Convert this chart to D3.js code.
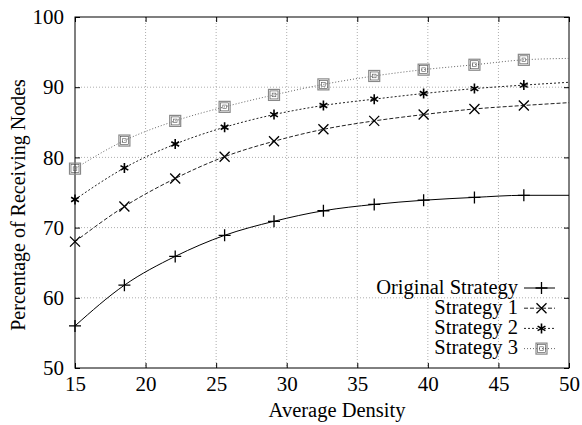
<!DOCTYPE html>
<html>
<head>
<meta charset="utf-8">
<script src="https://cdn.jsdelivr.net/npm/d3@7"></script>
<style>
  body { margin: 0; background: #fff; }
</style>
</head>
<body>
<div id="chart"></div>
<script>
// values
var density = [15, 18.5, 22.1, 25.6, 29.1, 32.6, 36.2, 39.7, 43.3, 46.8];
var original  = [56.0, 61.8, 65.9, 68.9, 70.9, 72.4, 73.3, 73.9, 74.3, 74.6];
var strategy1 = [68.0, 73.0, 77.0, 80.1, 82.3, 84.0, 85.2, 86.1, 86.9, 87.4];
var strategy2 = [74.0, 78.5, 81.9, 84.3, 86.1, 87.4, 88.3, 89.1, 89.8, 90.3];
var strategy3 = [78.4, 82.4, 85.2, 87.2, 88.9, 90.4, 91.6, 92.5, 93.2, 93.9];
// where each fitted line ends at x = 50
var lineEnd = [74.6, 87.8, 90.7, 94.1];
var seriesNames = ["Original Strategy", "Strategy 1", "Strategy 2", "Strategy 3"];
var xTicks = [15, 20, 25, 30, 35, 40, 45, 50];
var yTicks = [50, 60, 70, 80, 90, 100];

var FONT = "Liberation Serif";

var margin = {top: 17, right: 13, bottom: 57, left: 75},
    width = 582 - margin.left - margin.right,
    height = 425 - margin.top - margin.bottom;

var x = d3.scaleLinear().domain([15, 50]).range([0, width]);
var y = d3.scaleLinear().domain([50, 100]).range([height, 0]);

var svg = d3.select("#chart").append("svg")
    .attr("width", 582)
    .attr("height", 425)
    .attr("font-family", FONT)
  .append("g")
    .attr("transform", "translate(" + margin.left + "," + margin.top + ")");

// grid
svg.selectAll(".gx").data(xTicks.slice(1, -1)).enter().append("line")
    .attr("x1", d => x(d)).attr("x2", d => x(d))
    .attr("y1", 0).attr("y2", height)
    .attr("stroke", "#999").attr("stroke-width", 0.8).attr("stroke-dasharray", "1,2");
svg.selectAll(".gy").data(yTicks.slice(1, -1)).enter().append("line")
    .attr("y1", d => y(d)).attr("y2", d => y(d))
    .attr("x1", 0).attr("x2", width)
    .attr("stroke", "#999").attr("stroke-width", 0.8).attr("stroke-dasharray", "1,2");

// axes, ticks inside on all four sides
function styleAxis(g) {
  g.attr("font-family", FONT).attr("font-size", 21);
  g.select(".domain").remove();
  g.selectAll("line").attr("stroke", "#000");
  g.selectAll("text").attr("fill", "#000");
}
svg.append("g").attr("transform", "translate(0," + height + ")")
    .call(d3.axisBottom(x).tickValues(xTicks).tickSizeInner(-5).tickPadding(8))
    .call(styleAxis);
svg.append("g")
    .call(d3.axisTop(x).tickValues(xTicks).tickSizeInner(-5).tickFormat(""))
    .call(styleAxis);
svg.append("g")
    .call(d3.axisLeft(y).tickValues(yTicks).tickSizeInner(-5).tickPadding(11))
    .call(styleAxis);
svg.append("g").attr("transform", "translate(" + width + ",0)")
    .call(d3.axisRight(y).tickValues(yTicks).tickSizeInner(-5).tickFormat(""))
    .call(styleAxis);

svg.append("rect").attr("width", width).attr("height", height)
    .attr("fill", "none").attr("stroke", "#000").attr("stroke-width", 1);

// axis titles
svg.append("text").attr("x", 262).attr("y", 400)
    .attr("text-anchor", "middle").attr("font-family", FONT).attr("font-size", 20.5)
    .text("Average Density");
svg.append("text")
    .attr("transform", "translate(-50,188) rotate(-90)")
    .attr("text-anchor", "middle").attr("font-family", FONT).attr("font-size", 20)
    .text("Percentage of Receiving Nodes");

// series
var allSeries = [original, strategy1, strategy2, strategy3];
var dashes = [null, "4,2", "2,2", "1,2"];
var strokes = ["#000", "#222", "#222", "#666"];
var markers = ["plus", "cross", "star", "box"];

function drawMarker(g, type, cx, cy) {
  var s = 5;
  if (type === "plus") {
    g.append("path").attr("d", "M" + (cx - s - 1) + "," + cy + "h" + (2 * s + 2) + "M" + cx + "," + (cy - s - 1) + "v" + (2 * s + 2))
      .attr("stroke", "#000").attr("stroke-width", 1.3).attr("fill", "none");
  } else if (type === "cross") {
    g.append("path").attr("d", "M" + (cx - s) + "," + (cy - s) + "l" + (2 * s) + "," + (2 * s) + "M" + (cx - s) + "," + (cy + s) + "l" + (2 * s) + "," + (-2 * s))
      .attr("stroke", "#000").attr("stroke-width", 1.3).attr("fill", "none");
  } else if (type === "star") {
    var a = 4.5, b = 3.9;
    g.append("path").attr("d",
        "M" + cx + "," + (cy - a - 0.5) + "v" + (2 * a + 1) +
        "M" + (cx - b) + "," + (cy - a / 2) + "l" + (2 * b) + "," + a +
        "M" + (cx - b) + "," + (cy + a / 2) + "l" + (2 * b) + "," + (-a))
      .attr("stroke", "#000").attr("stroke-width", 1.6).attr("fill", "none");
  } else {
    g.append("rect").attr("x", cx - 5.5).attr("y", cy - 5.5).attr("width", 11).attr("height", 11)
      .attr("fill", "none").attr("stroke", "#888").attr("stroke-width", 1.2);
    g.append("rect").attr("x", cx - 4).attr("y", cy - 4).attr("width", 8).attr("height", 8)
      .attr("fill", "none").attr("stroke", "#444").attr("stroke-width", 0.6);
    g.append("rect").attr("x", cx - 1.8).attr("y", cy - 1.8).attr("width", 3.6).attr("height", 3.6)
      .attr("fill", "none").attr("stroke", "#555").attr("stroke-width", 0.6);
  }
}

var line = d3.line().x(d => x(d[0])).y(d => y(d[1])).curve(d3.curveMonotoneX);

allSeries.forEach(function(vals, i) {
  var pts = density.map((d, j) => [d, vals[j]]);
  pts.push([50, lineEnd[i]]);
  svg.append("path").datum(pts).attr("d", line)
    .attr("fill", "none").attr("stroke", strokes[i]).attr("stroke-width", 1)
    .attr("stroke-dasharray", dashes[i]);
  var g = svg.append("g");
  density.forEach(function(d, j) { drawMarker(g, markers[i], x(d), y(vals[j])); });
});

// legend
var legend = svg.append("g");
seriesNames.forEach(function(name, i) {
  var ly = 271 + i * 20.2;
  legend.append("text").attr("x", 443).attr("y", ly + 5.5).attr("text-anchor", "end")
    .attr("font-family", FONT).attr("font-size", 20.5).text(name);
  legend.append("line").attr("x1", 449).attr("x2", 480).attr("y1", ly).attr("y2", ly)
    .attr("stroke", strokes[i]).attr("stroke-width", 1).attr("stroke-dasharray", dashes[i]);
  drawMarker(legend, markers[i], 466.5, ly);
});
</script>
</body>
</html>
